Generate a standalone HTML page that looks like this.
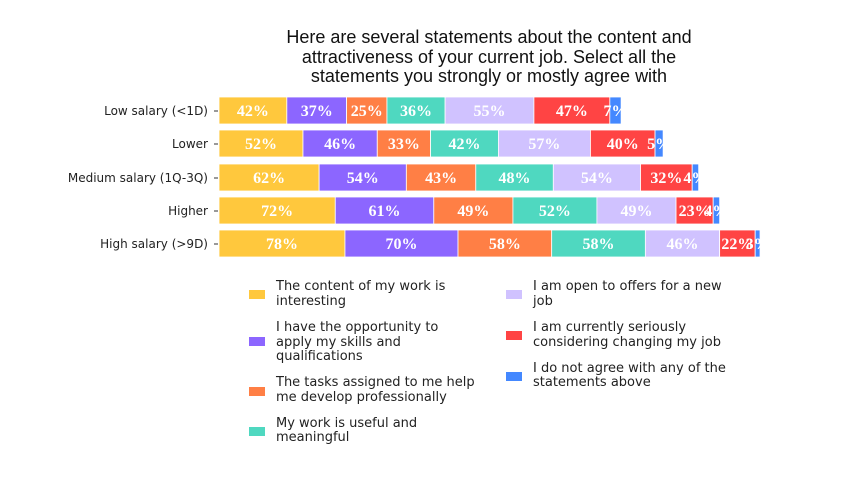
<!DOCTYPE html>
<html><head><meta charset="utf-8"><style>
html,body{margin:0;padding:0;background:#fff;width:844px;height:477px;overflow:hidden}
svg text{font-family:"DejaVu Sans",sans-serif}
.t{font-family:"Liberation Sans",sans-serif;font-size:18px;fill:#111}
.v{font-family:"Liberation Serif","DejaVu Serif",serif;font-size:16px;font-weight:bold;fill:#fff}
.y{font-size:12px;fill:#222}
.l{font-size:13px;fill:#222}
</style></head><body>
<svg width="844" height="477" viewBox="0 0 844 477" xmlns="http://www.w3.org/2000/svg">
<text class="t" x="489" y="43" text-anchor="middle">Here are several statements about the content and</text>
<text class="t" x="489" y="63" text-anchor="middle">attractiveness of your current job. Select all the</text>
<text class="t" x="489" y="82" text-anchor="middle">statements you strongly or mostly agree with</text>
<g id="bars" stroke="#fff" stroke-width="0.8"></g>
<g id="labels"></g>
<g class="y" text-anchor="end">
<text x="208" y="115">Low salary (&lt;1D)</text>
<text x="208" y="148">Lower</text>
<text x="208" y="182">Medium salary (1Q-3Q)</text>
<text x="208" y="215">Higher</text>
<text x="208" y="248">High salary (&gt;9D)</text>
</g>
<g stroke="#333" stroke-width="1">
<line x1="214" x2="218" y1="111" y2="111"/><line x1="214" x2="218" y1="144" y2="144"/><line x1="214" x2="218" y1="178" y2="178"/><line x1="214" x2="218" y1="211" y2="211"/><line x1="214" x2="218" y1="244" y2="244"/>
</g>
<g>
<rect x="249" y="290" width="16" height="9" fill="#FFC83D"/>
<rect x="249" y="337" width="16" height="9" fill="#8C66FF"/>
<rect x="249" y="387" width="16" height="9" fill="#FF7F45"/>
<rect x="249" y="427" width="16" height="9" fill="#4FD8C0"/>
<rect x="506" y="290" width="16" height="9" fill="#D0C2FF"/>
<rect x="506" y="331" width="16" height="9" fill="#FF4444"/>
<rect x="506" y="372" width="16" height="9" fill="#4488FF"/>
</g>
<g class="l">
<text x="276" y="290">The content of my work is</text><text x="276" y="305">interesting</text>
<text x="276" y="331">I have the opportunity to</text><text x="276" y="346">apply my skills and</text><text x="276" y="360">qualifications</text>
<text x="276" y="386">The tasks assigned to me help</text><text x="276" y="401">me develop professionally</text>
<text x="276" y="427">My work is useful and</text><text x="276" y="441">meaningful</text>
<text x="533" y="290">I am open to offers for a new</text><text x="533" y="305">job</text>
<text x="533" y="331">I am currently seriously</text><text x="533" y="346">considering changing my job</text>
<text x="533" y="372">I do not agree with any of the</text><text x="533" y="386">statements above</text>
</g>
<script>
var cols=["#FFC83D","#8C66FF","#FF7F45","#4FD8C0","#D0C2FF","#FF4444","#4488FF"];
var data=[[42,37,25,36,55,47,7],[52,46,33,42,57,40,5],[62,54,43,48,54,32,4],[72,61,49,52,49,23,4],[78,70,58,58,46,22,3]];
var tops=[97,130,164,197,230];var s=1.615;var ns="http://www.w3.org/2000/svg";
var B=document.getElementById("bars"),L=document.getElementById("labels");
data.forEach(function(r,i){var x=219;r.forEach(function(v,j){var w=v*s;
var re=document.createElementNS(ns,"rect");re.setAttribute("x",x);re.setAttribute("y",tops[i]);re.setAttribute("width",w);re.setAttribute("height",27);re.setAttribute("fill",cols[j]);B.appendChild(re);
var t=document.createElementNS(ns,"text");t.setAttribute("class","v");t.setAttribute("x",x+w/2);t.setAttribute("y",tops[i]+19);t.setAttribute("text-anchor","middle");t.textContent=v+"%";L.appendChild(t);
x+=w;});});
</script>
</svg>
</body></html>
